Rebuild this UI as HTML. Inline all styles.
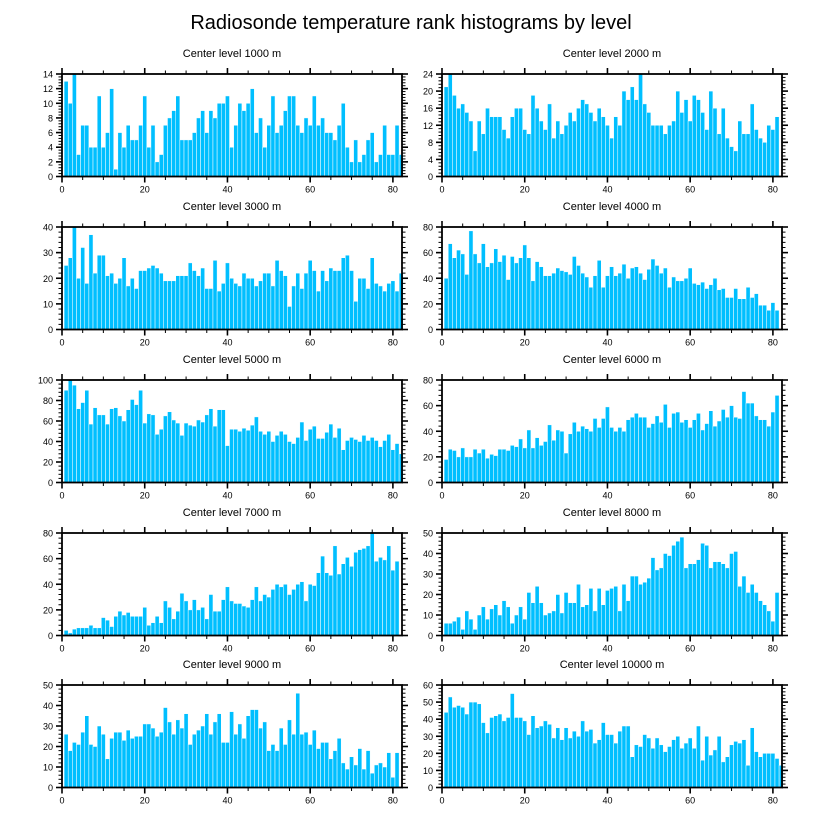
<!DOCTYPE html>
<html><head><meta charset="utf-8">
<style>
html,body{margin:0;padding:0;background:#fff;}
svg{display:block;font-family:"Liberation Sans",Arial,sans-serif;}
</style></head>
<body>
<svg id="chart" width="822" height="824" viewBox="0 0 822 824">
<text x="411" y="29" text-anchor="middle" font-size="20">Radiosonde temperature rank histograms by level</text>
</svg>
<script>
const levels = ["1000","2000","3000","4000","5000","6000","7000","8000","9000","10000"];
const yMaxes = [14,24,40,80,100,80,80,50,50,60];
const yStep = [2,4,10,20,20,20,20,10,10,10];
const xTicks = [0,20,40,60,80];
const v1000 = [13,10,14,3,7,7,4,4,11,4,6,12,1,6,4,7,5,5,7,11,4,7,2,3,7,8,9,11,5,5,5,6,8,9,6,9,8,10,10,11,4,7,10,9,10,12,6,8,4,7,11,6,7,9,11,11,7,6,8,7,11,7,8,6,6,5,7,10,4,2,5,2,3,5,6,2,3,7,3,3,7,3];
const v2000 = [21,24,19,16,17,15,13,6,13,10,16,14,14,14,11,9,14,16,16,11,10,19,16,13,11,17,9,13,10,12,15,13,16,18,17,15,13,16,14,12,9,14,12,20,18,21,18,24,17,15,12,12,12,10,12,13,20,15,18,13,19,18,15,11,20,16,10,16,9,7,6,13,10,10,17,11,9,8,12,11,14];
const v3000 = [25,28,40,20,32,18,37,22,29,29,21,22,18,20,28,17,20,16,23,23,24,25,24,22,19,19,19,21,21,21,26,23,21,24,16,16,27,15,18,26,20,18,17,22,20,20,17,19,22,22,17,27,23,21,9,17,22,16,22,27,23,15,23,19,24,23,23,28,29,23,11,20,20,16,28,18,17,15,18,19,15,22];
const v4000 = [40,67,56,62,59,43,77,59,52,67,49,52,63,53,58,39,57,52,56,66,56,38,53,49,42,42,44,48,46,45,43,57,50,44,41,33,42,54,33,42,49,42,44,51,40,48,49,44,39,47,55,50,44,48,33,41,38,38,40,48,36,35,37,32,35,40,31,32,25,25,32,24,24,33,25,28,19,19,15,21,15];
const v5000 = [90,100,95,72,78,90,57,73,66,66,57,72,73,65,60,71,81,76,90,58,67,66,47,52,65,69,61,58,46,58,56,55,61,59,66,72,55,71,71,36,52,52,50,53,51,56,64,50,47,50,40,46,50,47,40,38,44,59,41,52,55,43,43,49,57,44,53,32,41,44,42,40,46,41,44,41,35,41,47,32,38,28];
const v6000 = [18,26,25,20,27,20,20,26,23,26,19,22,21,26,26,25,29,28,34,27,41,27,35,29,32,45,33,41,40,23,38,47,40,44,42,40,50,43,50,59,43,40,43,40,49,51,54,51,51,43,46,52,47,61,43,54,55,47,49,43,49,54,41,46,56,44,48,57,51,60,51,50,71,62,62,52,49,49,44,55,68];
const v7000 = [4,2,5,6,6,6,8,6,6,14,12,7,15,19,16,18,15,15,15,22,8,10,15,10,27,22,13,19,33,27,20,28,20,22,13,32,19,19,28,38,27,25,25,23,22,28,38,27,32,30,36,40,38,40,32,36,40,42,27,40,39,49,62,49,47,70,48,56,61,54,65,67,68,70,80,58,61,59,70,51,58];
const v8000 = [6,6,7,9,3,12,8,3,10,14,8,13,15,10,17,14,6,10,14,8,21,16,24,16,10,11,12,20,11,21,16,16,25,14,15,23,12,23,15,22,23,24,12,25,17,29,29,25,26,28,38,32,33,40,39,44,46,48,33,35,35,37,45,44,33,36,36,35,33,40,41,24,29,21,25,21,17,15,12,7,21];
const v9000 = [26,18,22,21,27,35,21,20,30,26,14,24,27,27,23,28,24,25,25,31,31,29,25,27,39,32,26,33,29,36,21,26,28,30,36,26,32,36,22,22,37,26,31,24,35,38,38,29,32,18,21,18,29,21,33,26,46,26,27,21,28,19,22,22,14,18,24,12,9,15,11,19,9,18,7,11,12,10,17,5,17];
const v10000 = [44,53,47,48,47,43,50,50,49,38,32,41,42,43,39,41,55,41,41,39,31,42,35,36,39,37,29,35,28,35,29,33,30,39,33,34,26,28,38,31,31,26,33,36,36,18,25,24,31,29,23,29,25,21,24,28,30,23,26,29,23,36,16,30,19,22,30,15,18,25,27,26,28,13,35,21,18,20,20,20,17,13];
const series = [v1000,v2000,v3000,v4000,v5000,v6000,v7000,v8000,v9000,v10000];

const NS = "http://www.w3.org/2000/svg";
const svg = document.getElementById("chart");
const colX = [62, 442];
const rowY = [74, 227, 380, 533, 685];
const PW = 340, PH = 102.5, XMAX = 82.2;
function mk(tag, attrs, parent){const e=document.createElementNS(NS,tag);for(const k in attrs)e.setAttribute(k,attrs[k]);parent.appendChild(e);return e;}

series.forEach((vals, p) => {
  const x0 = colX[p%2], y0 = rowY[Math.floor(p/2)];
  const ymax = yMaxes[p], step = yStep[p];
  const sx = v => x0 + v/XMAX*PW;
  const sy = v => y0 + PH - v/ymax*PH;
  const g = mk("g", {}, svg);
  
  
  const t = mk("text", {x: x0+PW/2, y: y0-17, "text-anchor":"middle", "font-size":"11"}, g);
  t.textContent = "Center level " + levels[p] + " m";
  
  
  vals.forEach((v, i) => {
    const c = i + 1;
    const r = mk("rect", {x: sx(c-0.5), y: sy(v), width: sx(c+0.5)-sx(c-0.5), height: sy(0)-sy(v), fill:"#00bfff", stroke:"#ffffff", "stroke-width":"0.5"}, g);
    
    
  });
  const fr = mk("rect", {x:x0, y:y0, width:PW, height:PH, fill:"none", stroke:"#000", "stroke-width":"1.8"}, g);
  
  
  // x ticks
  for (let v=0; v<=XMAX; v+=5) {
    const major = v%20===0, L = major?6:3.5, X = sx(v);
    mk("line",{x1:X,x2:X,y1:y0+PH,y2:y0+PH+L,stroke:"#000","stroke-width":major?1.6:1},g);
    mk("line",{x1:X,x2:X,y1:y0,y2:y0-L,stroke:"#000","stroke-width":major?1.6:1},g);
  }
  xTicks.forEach(v => {
    const tx = mk("text",{x:sx(v),y:y0+PH+16,"text-anchor":"middle","font-size":"9"},g);
    tx.textContent = v;
    
    
  });
  // y ticks
  const minor = step/5;
  for (let k=0; k*minor<=ymax+1e-9; k++) {
    const v = k*minor, major = k%5===0, L = major?6:3.5, Y = sy(v);
    mk("line",{x1:x0,x2:x0-L,y1:Y,y2:Y,stroke:"#000","stroke-width":major?1.6:1},g);
    mk("line",{x1:x0+PW,x2:x0+PW+L,y1:Y,y2:Y,stroke:"#000","stroke-width":major?1.6:1},g);
  }
  for (let v=0; v<=ymax; v+=step) {
    const ty = mk("text",{x:x0-9,y:sy(v)+3.5,"text-anchor":"end","font-size":"9"},g);
    ty.textContent = v;
    
    
  }
});
</script>
</body></html>
